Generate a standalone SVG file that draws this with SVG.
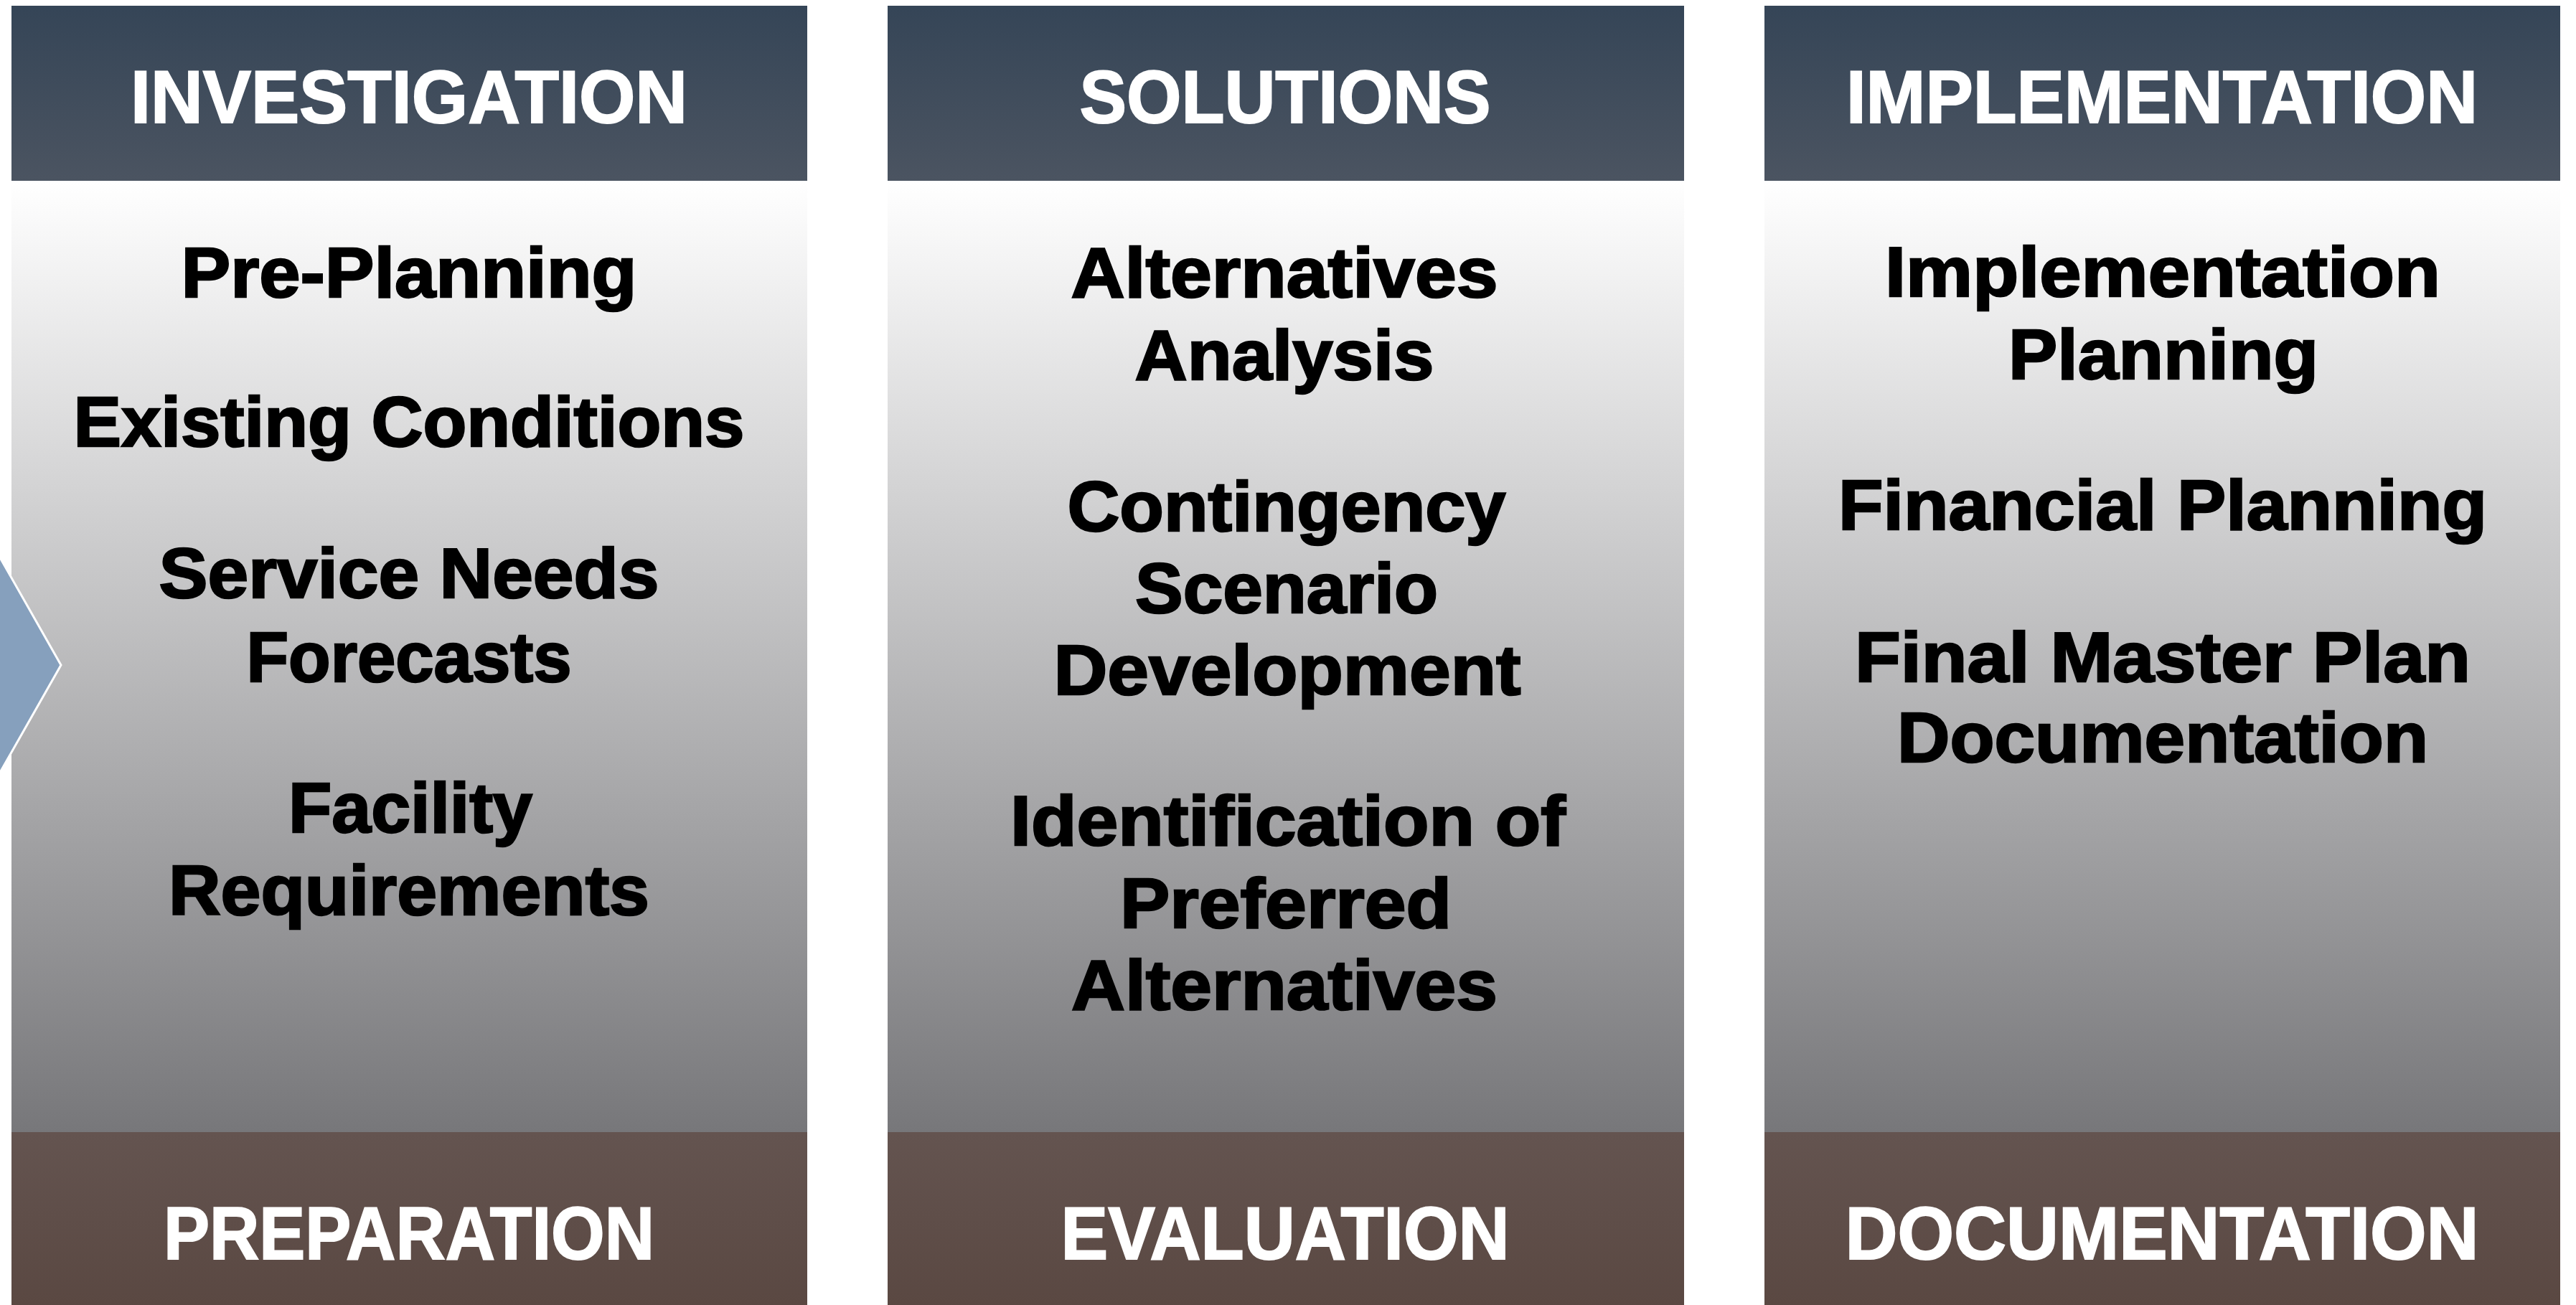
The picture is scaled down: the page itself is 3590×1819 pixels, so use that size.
<svg xmlns="http://www.w3.org/2000/svg" width="3590" height="1819" viewBox="0 0 3590 1819">
<defs>
<linearGradient id="gHead" x1="0" y1="0" x2="0" y2="1">
<stop offset="0" stop-color="#354557"/>
<stop offset="1" stop-color="#4b5461"/>
</linearGradient>
<linearGradient id="gBody" x1="0" y1="0" x2="0" y2="1">
<stop offset="0" stop-color="#ffffff"/>
<stop offset="1" stop-color="#77777a"/>
</linearGradient>
<linearGradient id="gFoot" x1="0" y1="0" x2="0" y2="1">
<stop offset="0" stop-color="#645450"/>
<stop offset="1" stop-color="#5a4842"/>
</linearGradient>
</defs>
<style>
.head{fill:url(#gHead)}
.body{fill:url(#gBody)}
.foot{fill:url(#gFoot)}
.ht{font-family:"Liberation Sans",Arial,sans-serif;font-weight:bold;font-size:104px;fill:#ffffff;stroke:#ffffff;stroke-width:2;text-anchor:middle}
.bt{font-family:"Liberation Sans",Arial,sans-serif;font-weight:bold;font-size:98px;fill:#000000;stroke:#000000;stroke-width:2.5;text-anchor:middle}
</style>
<rect x="0" y="0" width="3590" height="1819" fill="#ffffff"/>

<g id="col-investigation">
<rect class="head" x="16" y="8" width="1109" height="244"/>
<rect class="body" x="16" y="252" width="1109" height="1326"/>
<rect class="foot" x="16" y="1578" width="1109" height="241"/>
<text class="ht" x="570" y="171" textLength="776" lengthAdjust="spacingAndGlyphs">INVESTIGATION</text>
<text class="bt" x="570" y="414" textLength="635" lengthAdjust="spacingAndGlyphs">Pre-Planning</text>
<text class="bt" x="570" y="622" textLength="935" lengthAdjust="spacingAndGlyphs">Existing Conditions</text>
<text class="bt" x="570" y="833" textLength="697" lengthAdjust="spacingAndGlyphs">Service Needs</text>
<text class="bt" x="570" y="950" textLength="453" lengthAdjust="spacingAndGlyphs">Forecasts</text>
<text class="bt" x="572" y="1160" textLength="340" lengthAdjust="spacingAndGlyphs">Facility</text>
<text class="bt" x="570" y="1275" textLength="670" lengthAdjust="spacingAndGlyphs">Requirements</text>
<text class="ht" x="570" y="1755" textLength="684" lengthAdjust="spacingAndGlyphs">PREPARATION</text>
</g>

<g id="arrow">
<polygon points="-20,742 85,927 -20,1112" fill="#86a0bd" stroke="#ffffff" stroke-width="3"/>
</g>

<g id="col-solutions">
<rect class="head" x="1237" y="8" width="1110" height="244"/>
<rect class="body" x="1237" y="252" width="1110" height="1326"/>
<rect class="foot" x="1237" y="1578" width="1110" height="241"/>
<text class="ht" x="1791" y="171" textLength="573" lengthAdjust="spacingAndGlyphs">SOLUTIONS</text>
<text class="bt" x="1790" y="414" textLength="595" lengthAdjust="spacingAndGlyphs">Alternatives</text>
<text class="bt" x="1790" y="529" textLength="417" lengthAdjust="spacingAndGlyphs">Analysis</text>
<text class="bt" x="1793" y="740" textLength="611" lengthAdjust="spacingAndGlyphs">Contingency</text>
<text class="bt" x="1793" y="854" textLength="422" lengthAdjust="spacingAndGlyphs">Scenario</text>
<text class="bt" x="1794" y="968" textLength="651" lengthAdjust="spacingAndGlyphs">Development</text>
<text class="bt" x="1795" y="1178" textLength="774" lengthAdjust="spacingAndGlyphs">Identification of</text>
<text class="bt" x="1792" y="1293" textLength="462" lengthAdjust="spacingAndGlyphs">Preferred</text>
<text class="bt" x="1790" y="1407" textLength="594" lengthAdjust="spacingAndGlyphs">Alternatives</text>
<text class="ht" x="1791" y="1755" textLength="625" lengthAdjust="spacingAndGlyphs">EVALUATION</text>
</g>

<g id="col-implementation">
<rect class="head" x="2459" y="8" width="1109" height="244"/>
<rect class="body" x="2459" y="252" width="1109" height="1326"/>
<rect class="foot" x="2459" y="1578" width="1109" height="241"/>
<text class="ht" x="3013" y="171" textLength="880" lengthAdjust="spacingAndGlyphs">IMPLEMENTATION</text>
<text class="bt" x="3014" y="413" textLength="774" lengthAdjust="spacingAndGlyphs">Implementation</text>
<text class="bt" x="3015" y="528" textLength="432" lengthAdjust="spacingAndGlyphs">Planning</text>
<text class="bt" x="3014" y="738" textLength="904" lengthAdjust="spacingAndGlyphs">Financial Planning</text>
<text class="bt" x="3014" y="950" textLength="858" lengthAdjust="spacingAndGlyphs">Final Master Plan</text>
<text class="bt" x="3014" y="1062" textLength="740" lengthAdjust="spacingAndGlyphs">Documentation</text>
<text class="ht" x="3013" y="1755" textLength="883" lengthAdjust="spacingAndGlyphs">DOCUMENTATION</text>
</g>

<g id="connectors"></g>
</svg>
